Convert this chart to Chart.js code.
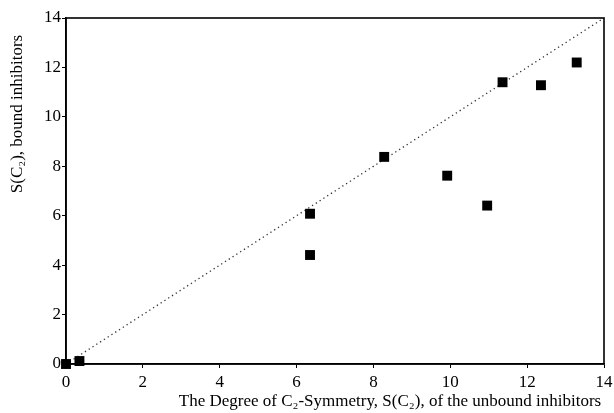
<!DOCTYPE html>
<html>
<head>
<meta charset="utf-8">
<script src="https://cdn.jsdelivr.net/npm/chart.js@4/dist/chart.umd.min.js"></script>
<style>
  html, body { margin: 0; padding: 0; background: #fff; }
  #contenedor { width: 614px; height: 413px; }
</style>
</head>
<body>
<div id="contenedor"><canvas id="graficoSimetria"></canvas></div>
<script>
// Valores: S(C2) libre (x) y S(C2) unido (y).
const simetriaLibre = [0, 0.35, 6.35, 6.35, 8.28, 9.92, 10.96, 11.36, 12.36, 13.29];
const simetriaUnida = [0, 0.12, 6.08, 4.41, 8.38, 7.62, 6.41, 11.40, 11.28, 12.20];
// Diagonal de referencia y = x.
const diagonalX = [0, 14];
const diagonalY = [0, 14];
// Marcas de los ejes.
const marcasEjes = [0, 2, 4, 6, 8, 10, 12, 14];

const tituloX = 'The Degree of C₂-Symmetry, S(C₂), of the unbound inhibitors';
const tituloY = 'S(C₂), bound inhibitors';
const fuente = '"Liberation Serif", "Times New Roman", serif';

document.addEventListener('DOMContentLoaded', () => {

    // Dibuja el marco completo y los títulos de los ejes.
    const marcoYTitulos = {
        id: 'marcoYTitulos',
        afterDraw(chart) {
            const ctx = chart.ctx;
            const area = chart.chartArea;
            ctx.save();
            ctx.strokeStyle = '#000';
            ctx.lineWidth = 1.6;
            ctx.strokeRect(area.left, area.top, area.right - area.left, area.bottom - area.top);

            ctx.fillStyle = '#000';
            ctx.font = '17px ' + fuente;
            ctx.textBaseline = 'middle';
            // Título del eje X (desplazado a la derecha como en el original).
            ctx.textAlign = 'center';
            ctx.fillText(tituloX, 390, 402);
            // Título del eje Y (vertical, cerca de la parte superior).
            ctx.translate(18, 114);
            ctx.rotate(-Math.PI / 2);
            ctx.fillText(tituloY, 0, 0);
            ctx.restore();
        }
    };

    const dataSimetria = {
        datasets: [
            {
                label: 'Inhibidores',
                data: simetriaLibre.map((x, i) => ({ x: x, y: simetriaUnida[i] })),
                pointStyle: 'rect',
                pointRadius: 7,
                backgroundColor: '#000',
                borderColor: '#000',
                borderWidth: 0,
                showLine: false,
                clip: false
            },
            {
                label: 'y = x',
                data: diagonalX.map((x, i) => ({ x: x, y: diagonalY[i] })),
                showLine: true,
                borderColor: '#333',
                borderWidth: 1.3,
                borderDash: [1.3, 3.2],
                pointRadius: 0,
                fill: false
            }
        ]
    };

    const ejeComun = {
        type: 'linear',
        min: 0,
        max: 14,
        afterBuildTicks: (eje) => { eje.ticks = marcasEjes.map(v => ({ value: v })); },
        border: { display: true, color: '#000', width: 1.6 },
        grid: { drawOnChartArea: false, drawTicks: true, tickLength: 4, color: '#000', lineWidth: 1 },
        ticks: { color: '#000', font: { family: fuente, size: 17 }, padding: 4 }
    };

    const configSimetria = {
        type: 'scatter',
        data: dataSimetria,
        options: {
            responsive: true,
            maintainAspectRatio: false,
            animation: false,
            layout: { padding: { left: 0, right: 10, top: 18, bottom: 0 } },
            plugins: {
                legend: { display: false },
                tooltip: { enabled: false }
            },
            scales: {
                x: Object.assign({}, ejeComun, {
                    afterFit: (eje) => {
                        eje.height = 49;
                        eje.paddingLeft = 0;
                        eje.paddingRight = 0;
                    }
                }),
                y: Object.assign({}, ejeComun, {
                    ticks: Object.assign({}, ejeComun.ticks, { padding: 1 }),
                    afterFit: (eje) => { eje.width = 66; }
                })
            }
        },
        plugins: [marcoYTitulos]
    };

    new Chart(document.getElementById('graficoSimetria'), configSimetria);
});
</script>
</body>
</html>
